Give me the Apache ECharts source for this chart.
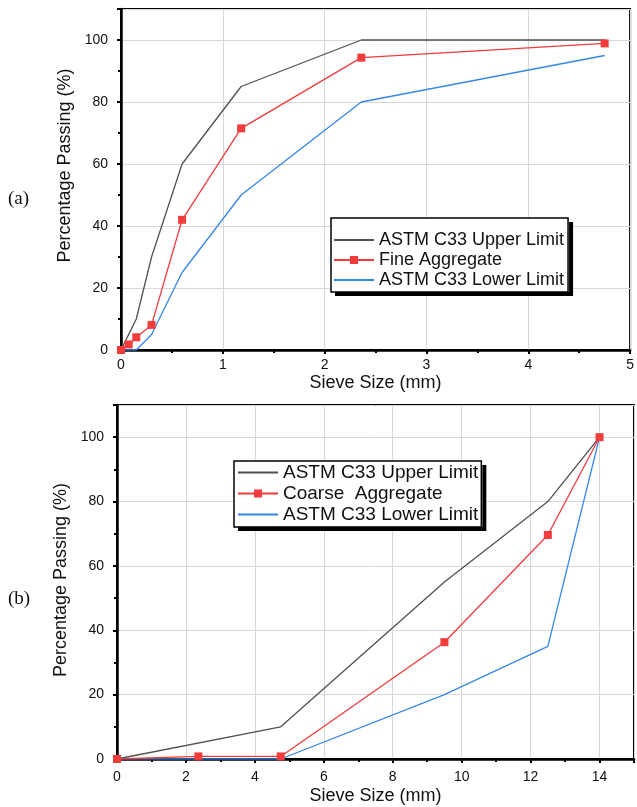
<!DOCTYPE html>
<html>
<head>
<meta charset="utf-8">
<script src="https://cdn.jsdelivr.net/npm/echarts@6/dist/echarts.min.js"></script>
<style>
html,body{margin:0;padding:0;background:#fff;overflow:hidden;}
#chart{width:637px;height:807px;}
</style>
</head>
<body>
<div id="chart"></div>
<script>
// ---- (a) Fine aggregate ----
const fineLimitSieve = [0, 0.15, 0.3, 0.6, 1.18, 2.36, 4.75];
const fineUpperLimit = [0, 10, 30, 60, 85, 100, 100];
const fineLowerLimit = [0, 0, 5, 25, 50, 80, 95];
const fineSieve = [0, 0.075, 0.15, 0.3, 0.6, 1.18, 2.36, 4.75];
const finePassing = [0, 1.8, 4.1, 8.1, 42, 71.5, 94.3, 98.9];

// ---- (b) Coarse aggregate ----
const coarseLimitSieve = [0, 4.75, 9.5, 12.5, 14];
const coarseUpperLimit = [0, 10, 55, 80, 100];
const coarseLowerLimit = [0, 0, 20, 35, 100];
const coarseSieve = [0, 2.36, 4.75, 9.5, 12.5, 14];
const coarsePassing = [0, 0.8, 0.8, 36.3, 69.6, 100];

const yTicks = [0, 20, 40, 60, 80, 100];
const fineXTicks = [0, 1, 2, 3, 4, 5];
const coarseXTicks = [0, 2, 4, 6, 8, 10, 12, 14];

const nameUpper = 'ASTM C33 Upper Limit';
const nameLower = 'ASTM C33 Lower Limit';
const nameFine = 'Fine Aggregate';
const nameCoarse = 'Coarse  Aggregate';

const pairs = (xs, ys) => xs.map((x, i) => [x, ys[i]]);

const FONT = '"Liberation Sans", Arial, sans-serif';
const cUpper = '#505050', cFine = '#f23b3b', cLower = '#3587ea';

function xAxisCfg(gridIndex, max, interval, ticks, gap) {
  return {
    type: 'value', gridIndex, min: 0, max, interval,
    name: 'Sieve Size (mm)', nameLocation: 'middle', nameGap: gap,
    nameTextStyle: {fontFamily: FONT, fontSize: 18, color: '#111'},
    axisLine: {show: true, onZero: false, lineStyle: {color: '#000', width: 2.5}},
    axisTick: {show: true, inside: false, length: 4, lineStyle: {color: '#000', width: 2}},
    minorTick: {show: true, splitNumber: 2, length: 3, lineStyle: {color: '#000', width: 2}},
    axisLabel: {fontFamily: FONT, fontSize: 14, color: '#111', margin: gridIndex === 0 ? 8 : 11,
      formatter: v => ticks.includes(v) ? String(v) : ''},
    splitLine: {show: true, lineStyle: {color: '#d8d8d8', width: 1}}
  };
}
function yAxisCfg(gridIndex, gap, pad) {
  return {
    type: 'value', gridIndex, min: 0, max: 110, interval: 20,
    name: 'Percentage Passing (%)', nameLocation: 'middle', nameGap: gap,
    nameTextStyle: {fontFamily: FONT, fontSize: 18, color: '#111', padding: pad},
    axisLine: {show: true, onZero: false, lineStyle: {color: '#000', width: 2.5}},
    axisTick: {show: true, inside: false, length: 4, lineStyle: {color: '#000', width: 2}},
    minorTick: {show: true, splitNumber: 2, length: 3, lineStyle: {color: '#000', width: 2}},
    axisLabel: {fontFamily: FONT, fontSize: 14, color: '#111', margin: 13,
      formatter: v => yTicks.includes(v) ? String(v) : ''},
    splitLine: {show: true, lineStyle: {color: '#d8d8d8', width: 1}}
  };
}

// legend box description: shadow comes from the legend background, the frame is a stroked rect
const measureCtx = document.createElement('canvas').getContext('2d');
function textWidth(t, size) { measureCtx.font = size + 'px ' + FONT; return measureCtx.measureText(t).width; }
const ICON_W = 40, ICON_GAP = 5;
function legendParts(left, top, names, markerName, fontSize, lineHeight, padding) {
  const tw = Math.max(...names.map(n => textWidth(n, fontSize)));
  const w = padding[3] + ICON_W + ICON_GAP + tw + padding[1];
  const h = padding[0] + names.length * lineHeight + padding[2];
  const legend = {
    left, top, orient: 'vertical',
    data: names.map(n => n === markerName ? {name: n} : {name: n, itemStyle: {opacity: 0}}),
    itemWidth: ICON_W, itemHeight: 10, itemGap: 0,
    padding, backgroundColor: '#fff', borderWidth: 0, borderRadius: 0,
    shadowColor: '#000', shadowBlur: 0, shadowOffsetX: 4, shadowOffsetY: 4,
    selectedMode: false,
    textStyle: {fontFamily: FONT, fontSize, color: '#111', lineHeight}
  };
  const frame = {
    type: 'rect', z: 100, silent: true,
    shape: {x: left, y: top, width: w, height: h},
    style: {fill: null, stroke: '#000', lineWidth: 1.5}
  };
  return {legend, frame};
}
const lineSeries = (name, data, color, xi, withMarker) => ({
  type: 'line', name, data, xAxisIndex: xi, yAxisIndex: xi,
  symbol: withMarker ? 'rect' : 'none', symbolSize: 8,
  showSymbol: withMarker, z: withMarker ? 5 : 3,
  lineStyle: {color, width: 1.3}, itemStyle: {color},
  emphasis: {disabled: true}, animation: false
});

const legA = legendParts(331, 218, [nameUpper, nameFine, nameLower], nameFine, 18, 20, [12, 5, 2, 2]);
const legB = legendParts(234, 461, [nameUpper, nameCoarse, nameLower], nameCoarse, 19, 21, [1, 4, 2, 3]);

const chart = echarts.init(document.getElementById('chart'), null, {renderer: 'canvas'});
chart.setOption({
  animation: false,
  backgroundColor: '#fff',
  grid: [
    {left: 121, top: 9, right: 2, height: 341, show: true, borderColor: '#000', borderWidth: 2, backgroundColor: 'transparent'},
    {left: 117, top: 405, right: 2, height: 354, show: true, borderColor: '#000', borderWidth: 2, backgroundColor: 'transparent'}
  ],
  xAxis: [xAxisCfg(0, 5, 1, fineXTicks, 24), xAxisCfg(1, 15, 2, coarseXTicks, 28)],
  yAxis: [yAxisCfg(0, 46, [0, 0, 0, 28]), yAxisCfg(1, 42, [0, 0, 0, 4])],
  legend: [legA.legend, legB.legend],
  series: [
    lineSeries(nameUpper, pairs(fineLimitSieve, fineUpperLimit), cUpper, 0, false),
    lineSeries(nameLower, pairs(fineLimitSieve, fineLowerLimit), cLower, 0, false),
    lineSeries(nameFine, pairs(fineSieve, finePassing), cFine, 0, true),
    lineSeries(nameUpper, pairs(coarseLimitSieve, coarseUpperLimit), cUpper, 1, false),
    lineSeries(nameLower, pairs(coarseLimitSieve, coarseLowerLimit), cLower, 1, false),
    lineSeries(nameCoarse, pairs(coarseSieve, coarsePassing), cFine, 1, true)
  ],
  graphic: [
    legA.frame, legB.frame,
    {type: 'text', left: 8, top: 190, style: {text: '(a)', font: '19px "Liberation Serif", "Times New Roman", serif', fill: '#111'}},
    {type: 'text', left: 8, top: 590, style: {text: '(b)', font: '19px "Liberation Serif", "Times New Roman", serif', fill: '#111'}}
  ]
});
</script>
</body>
</html>
